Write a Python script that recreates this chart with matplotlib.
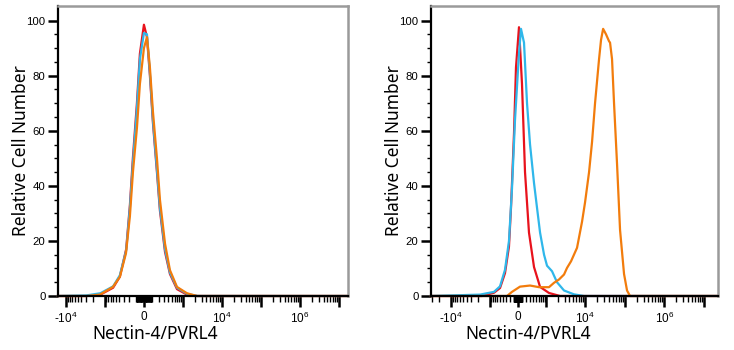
import matplotlib
matplotlib.use("Agg")
import matplotlib.pyplot as plt

plt.rcParams['font.family'] = ['Liberation Sans', 'DejaVu Sans']
plt.rcParams['mathtext.fontset'] = 'custom'
plt.rcParams['mathtext.rm'] = 'Liberation Sans'
plt.rcParams['mathtext.it'] = 'Liberation Sans:italic'
plt.rcParams['mathtext.bf'] = 'Liberation Sans:bold'

# ---------------- data ----------------
# Left panel (isotype / unstained / stained overlapping)
left_xlim = [-15900, 1.69e7]
left_red_x = [-15900, -3000, -1300, -600, -390, -250, -185, -140, -85, -48, 0, 36, 72, 111, 169, 218, 318, 442, 688, 1260, 2300, 1.69e7]
left_red_y = [0, 0, 0.5, 3, 7, 17, 33, 50, 70, 88, 98.5, 94, 80, 63, 45, 31, 16, 8, 2.5, 0.5, 0, 0]
left_blue_x = [-15900, -3000, -1300, -600, -390, -250, -185, -140, -85, -48, 0, 36, 72, 111, 169, 218, 318, 442, 688, 1260, 2300, 1.69e7]
left_blue_y = [0, 0.2, 1, 3.5, 7.5, 16.5, 32, 48, 68, 86, 95.5, 95, 81, 64, 46, 32, 17, 8.5, 3, 0.8, 0, 0]
left_orange_x = [-15900, -2900, -1340, -608, -388, -254, -185, -139, -85, -48, 0, 36, 72, 111, 169, 218, 318, 442, 688, 1260, 2284, 1.69e7]
left_orange_y = [0, 0, 0.5, 3.3, 7, 15.5, 29, 45, 61, 77, 90, 94, 83, 67, 50, 35, 19, 9.4, 3.3, 1, 0, 0]

# Right panel
right_xlim = [-31800, 2.3e7]
right_red_x = [-31800, -1608, -760, -500, -333, -220, -168, -94, -47, 23, 94, 168, 274, 430, 668, 1184, 2296, 2.3e7]
right_red_y = [0, 0, 1.2, 2.9, 8.3, 18, 32, 59, 83, 97.6, 77, 45, 23, 10.5, 3.3, 1.1, 0, 0]
right_blue_x = [-31800, -1812, -760, -500, -333, -220, -143, -70, 23, 70, 143, 220, 304, 430, 540, 668, 868, 1048, 1424, 1920, 2908, 5224, 9360, 2.3e7]
right_blue_y = [0, 0.5, 1.5, 3.5, 9.5, 20, 39, 64, 88, 97, 92, 70, 55, 41, 32, 23, 15, 11, 9, 5, 2, 0.6, 0, 0]
right_orange_x = [-31800, -274, -143, 47, 304, 624, 1184, 1608, 2164, 2908, 3468, 4384, 6228, 8344, 9940, 12560, 14960,
                  17800, 22480, 25240, 28500, 33800, 40280, 42680, 47920, 53840, 64120, 76400, 96400, 114800, 136800, 2.3e7]
right_orange_y = [0, 0, 1.5, 3.4, 3.8, 3.2, 3.2, 4.8, 6, 7.8, 10.2, 12.6, 17.5, 27, 34, 45, 56,
                  70, 86, 93, 97, 95, 92.5, 92, 86, 70, 48, 24, 8, 2, 0, 0]

x_major = [-1e4, -1e3, 0, 1e3, 1e4, 1e5, 1e6, 1e7]
x_major_labels = ['-$10^4$', '', '0', '', '$10^4$', '', '$10^6$', '']
y_major = [0, 20, 40, 60, 80, 100]

RED = '#e8121c'
BLUE = '#2fb7ea'
ORANGE = '#f27c0c'

fig = plt.figure(figsize=(7.34, 3.5), dpi=100)
W, H = 734, 350
panels = [
    dict(rect=(58, 6, 290, 290), lw=200, xlim=left_xlim,
         curves=[(left_red_x, left_red_y, RED), (left_blue_x, left_blue_y, BLUE), (left_orange_x, left_orange_y, ORANGE)]),
    dict(rect=(431, 6, 287, 290), lw=400, xlim=right_xlim,
         curves=[(right_red_x, right_red_y, RED), (right_blue_x, right_blue_y, BLUE), (right_orange_x, right_orange_y, ORANGE)]),
]

for p in panels:
    x0, y0, w, h = p['rect']
    ax = fig.add_axes([x0 / W, 1 - (y0 + h) / H, w / W, h / H])
    ax.set_xscale('asinh', linear_width=p['lw'])
    for xs, ys, c in p['curves']:
        ax.plot(xs, ys, color=c, lw=1.6, clip_on=False, solid_joinstyle='round')
    ax.set_xlim(*p['xlim'])
    ax.set_ylim(0, 105.3)

    lo, hi = p['xlim']
    minors = []
    for dec in [10, 100, 1000, 10000, 100000, 1000000]:
        for m in range(2, 10):
            for v in (m * dec, -m * dec):
                if lo < v < hi:
                    minors.append(v)
    for m in range(1, 10):
        minors += [m * 10, -m * 10]
    minors += [100, -100]
    ax.set_xticks(x_major, labels=x_major_labels)
    ax.set_xticks(minors, minor=True)
    ax.set_yticks(y_major)
    ax.set_yticks(range(0, 105, 5), minor=True)

    ax.tick_params(axis='x', which='major', direction='out', length=8, width=1.8, pad=3, labelsize=8.5, color='black')
    ax.tick_params(axis='x', which='minor', direction='out', length=4, width=1.0, color='black')
    ax.tick_params(axis='y', which='major', direction='out', length=7, width=1.8, pad=2, labelsize=8.2, color='black')
    ax.tick_params(axis='y', which='minor', direction='out', length=3, width=1.0, color='black')

    for s in ['left', 'bottom']:
        ax.spines[s].set_color('black')
        ax.spines[s].set_linewidth(1.6)
    for s in ['top', 'right']:
        ax.spines[s].set_color('#9a9a9a')
        ax.spines[s].set_linewidth(1.8)

    ax.set_ylabel('Relative Cell Number', fontsize=12.5, family=['Noto Sans', 'DejaVu Sans'])
    ax.yaxis.set_label_coords(-28 / w, 0.5)
    ax.set_xlabel('Nectin-4/PVRL4', fontsize=12.5, family=['Noto Sans', 'DejaVu Sans'])
    ax.xaxis.set_label_coords(97 / w, -29 / h)

fig.savefig('out.png', dpi=100)
